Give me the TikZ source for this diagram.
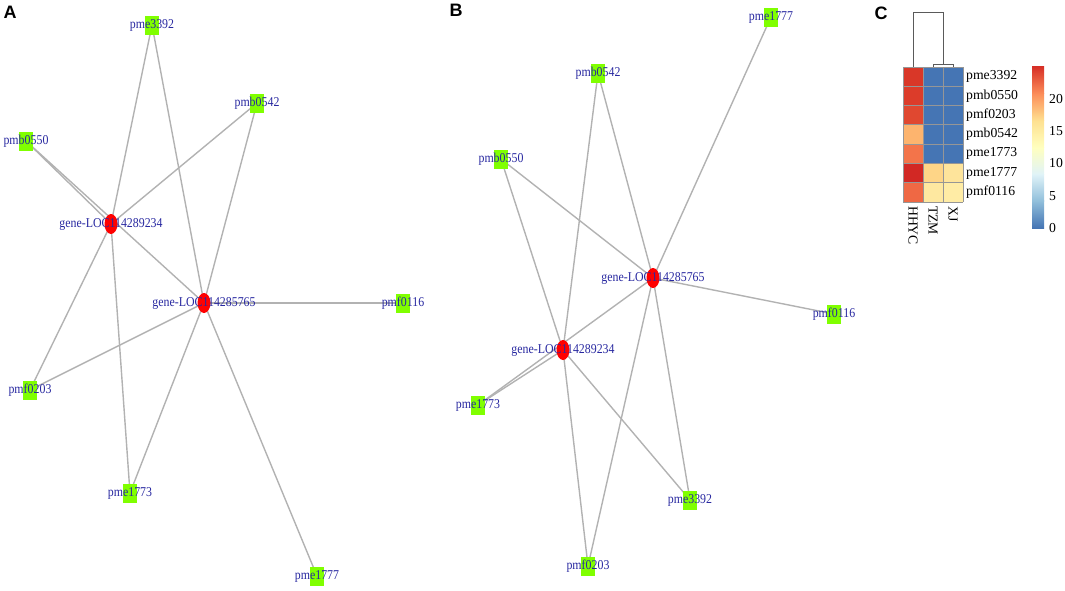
\documentclass[tikz,border=0pt]{standalone}
\usepackage{fontspec}
\setmainfont{Liberation Serif}
\newfontfamily\netfont[FakeStretch=0.88]{Liberation Serif}
\newfontfamily\panelfont{Liberation Sans}
\usetikzlibrary{shapes.geometric,backgrounds}
\definecolor{netblue}{RGB}{40,40,160}
\definecolor{leafgreen}{RGB}{128,255,0}
\definecolor{edgegray}{RGB}{178,178,178}
\definecolor{hblue}{RGB}{69,117,180}
\definecolor{gridgray}{RGB}{150,150,150}
\definecolor{dendgray}{RGB}{90,90,90}
\definecolor{cA}{RGB}{217,55,40}
\definecolor{cB}{RGB}{220,60,42}
\definecolor{cC}{RGB}{224,72,48}
\definecolor{cD}{RGB}{253,180,110}
\definecolor{cE}{RGB}{243,116,74}
\definecolor{cF}{RGB}{210,40,36}
\definecolor{cG}{RGB}{239,104,68}
\definecolor{tF}{RGB}{254,213,135}
\definecolor{xF}{RGB}{254,228,155}
\definecolor{tG}{RGB}{254,232,160}
\definecolor{xG}{RGB}{255,236,165}
\definecolor{r0}{HTML}{4575B4}
\definecolor{r1}{HTML}{91BFDB}
\definecolor{r2}{HTML}{E0F3F8}
\definecolor{r3}{HTML}{FFFFBF}
\definecolor{r4}{HTML}{FEE090}
\definecolor{r5}{HTML}{FC8D59}
\definecolor{r6}{HTML}{D73027}
\tikzset{
  leafbox/.style={rectangle,fill=leafgreen,draw=none,minimum width=14pt,minimum height=19pt,inner sep=0pt},
  genedot/.style={ellipse,fill=red,draw=none,minimum width=13pt,minimum height=20pt,inner sep=0pt},
  netlabel/.style={font=\netfont\fontsize{13.5}{14}\selectfont,text=netblue,inner sep=0pt},
  netedge/.style={draw=edgegray,line width=1.4pt},
  panellabel/.style={font=\panelfont\bfseries\fontsize{18}{18}\selectfont,inner sep=0pt},
  heatlabel/.style={font=\fontsize{13.7}{14}\selectfont,inner sep=0pt},
  dendro/.style={draw=dendgray,line width=1pt},
}
\begin{document}
\begin{tikzpicture}[x=1pt,y=-1pt]
\useasboundingbox (0,0) rectangle (1065,590);

% ---------- Panel A ----------
\node[panellabel] (labA) at (10,12) {A};
\node[leafbox] (a3392) at (152,25) {};
\node[leafbox] (a0542) at (257,103) {};
\node[leafbox] (a0550) at (26,141) {};
\node[genedot] (ag234) at (111,224) {};
\node[genedot] (ag765) at (204,303) {};
\node[leafbox] (a0116) at (403,303) {};
\node[leafbox] (a0203) at (30,390) {};
\node[leafbox] (a1773) at (130,493) {};
\node[leafbox] (a1777) at (317,576) {};
\begin{scope}[on background layer]
  \foreach \n in {a3392,a0542,a0550,a0203,a1773}{
    \draw[netedge] (\n.center) -- (ag234.center);
    \draw[netedge] (\n.center) -- (ag765.center);
  }
  \draw[netedge] (a0116.center) -- (ag765.center);
  \draw[netedge] (a1777.center) -- (ag765.center);
\end{scope}
\node[netlabel] (ta3392) at (a3392) {pme3392};
\node[netlabel] (ta0542) at (a0542) {pmb0542};
\node[netlabel] (ta0550) at (a0550) {pmb0550};
\node[netlabel] (tag234) at (ag234) {gene-LOC114289234};
\node[netlabel] (tag765) at (ag765) {gene-LOC114285765};
\node[netlabel] (ta0116) at (a0116) {pmf0116};
\node[netlabel] (ta0203) at (a0203) {pmf0203};
\node[netlabel] (ta1773) at (a1773) {pme1773};
\node[netlabel] (ta1777) at (a1777) {pme1777};

% ---------- Panel B ----------
\node[panellabel] (labB) at (456,10) {B};
\node[leafbox] (b1777) at (771,17) {};
\node[leafbox] (b0542) at (598,73) {};
\node[leafbox] (b0550) at (501,159) {};
\node[genedot] (bg765) at (653,278) {};
\node[leafbox] (b0116) at (834,314) {};
\node[genedot] (bg234) at (563,350) {};
\node[leafbox] (b1773) at (478,405) {};
\node[leafbox] (b3392) at (690,500) {};
\node[leafbox] (b0203) at (588,566) {};
\begin{scope}[on background layer]
  \foreach \n in {b3392,b0542,b0550,b0203,b1773}{
    \draw[netedge] (\n.center) -- (bg234.center);
    \draw[netedge] (\n.center) -- (bg765.center);
  }
  \draw[netedge] (b0116.center) -- (bg765.center);
  \draw[netedge] (b1777.center) -- (bg765.center);
\end{scope}
\node[netlabel] (tb1777) at (b1777) {pme1777};
\node[netlabel] (tb0542) at (b0542) {pmb0542};
\node[netlabel] (tb0550) at (b0550) {pmb0550};
\node[netlabel] (tbg765) at (bg765) {gene-LOC114285765};
\node[netlabel] (tb0116) at (b0116) {pmf0116};
\node[netlabel] (tbg234) at (bg234) {gene-LOC114289234};
\node[netlabel] (tb1773) at (b1773) {pme1773};
\node[netlabel] (tb3392) at (b3392) {pme3392};
\node[netlabel] (tb0203) at (b0203) {pmf0203};

% ---------- Panel C ----------
\node[panellabel] (labC) at (881,13) {C};
% cells
\def\rh{19.286}
\foreach \c [count=\i from 0] in {cA,cB,cC,cD,cE,cF,cG}{
  \fill[\c] (903,67+\i*\rh) rectangle (923,67+\i*\rh+\rh);
}
\foreach \c [count=\i from 0] in {hblue,hblue,hblue,hblue,hblue,tF,tG}{
  \fill[\c] (923,67+\i*\rh) rectangle (943,67+\i*\rh+\rh);
}
\foreach \c [count=\i from 0] in {hblue,hblue,hblue,hblue,hblue,xF,xG}{
  \fill[\c] (943,67+\i*\rh) rectangle (963,67+\i*\rh+\rh);
}
\foreach \i in {0,...,7}{
  \draw[gridgray,line width=0.8pt] (903,67+\i*\rh) -- (963,67+\i*\rh);
}
\foreach \x in {903,923,943,963}{
  \draw[gridgray,line width=0.8pt] (\x,67) -- (\x,202);
}
% dendrogram
\draw[dendro] (913,67) -- (913,12) -- (943,12) -- (943,64);
\draw[dendro] (933,67) -- (933,64) -- (953,64) -- (953,67);
% row labels
\foreach \t [count=\i from 0] in {pme3392,pmb0550,pmf0203,pmb0542,pme1773,pme1777,pmf0116}{
  \node[heatlabel,anchor=west] (row\i) at (966,67+\i*\rh+0.5*\rh) {\t};
}
% column labels
\node[heatlabel,rotate=-90,anchor=west] (colH) at (913,206) {HHYC};
\node[heatlabel,rotate=-90,anchor=west] (colT) at (933,206) {TZM};
\node[heatlabel,rotate=-90,anchor=west] (colX) at (953,206) {XJ};
% colour bar
\def\seg{26.833}
\foreach \lo/\hi [count=\i from 0] in {r0/r1,r1/r2,r2/r3,r3/r4,r4/r5,r5/r6}{
  \fill[bottom color=\lo,top color=\hi,shading angle=0]
    (1032,228-\i*\seg-\seg-0.3) rectangle (1044,228-\i*\seg);
}
\foreach \v in {0,5,10,15,20}{
  \node[heatlabel,anchor=west] (tick\v) at (1049,228-\v*6.46) {\v};
}
\end{tikzpicture}
\end{document}
